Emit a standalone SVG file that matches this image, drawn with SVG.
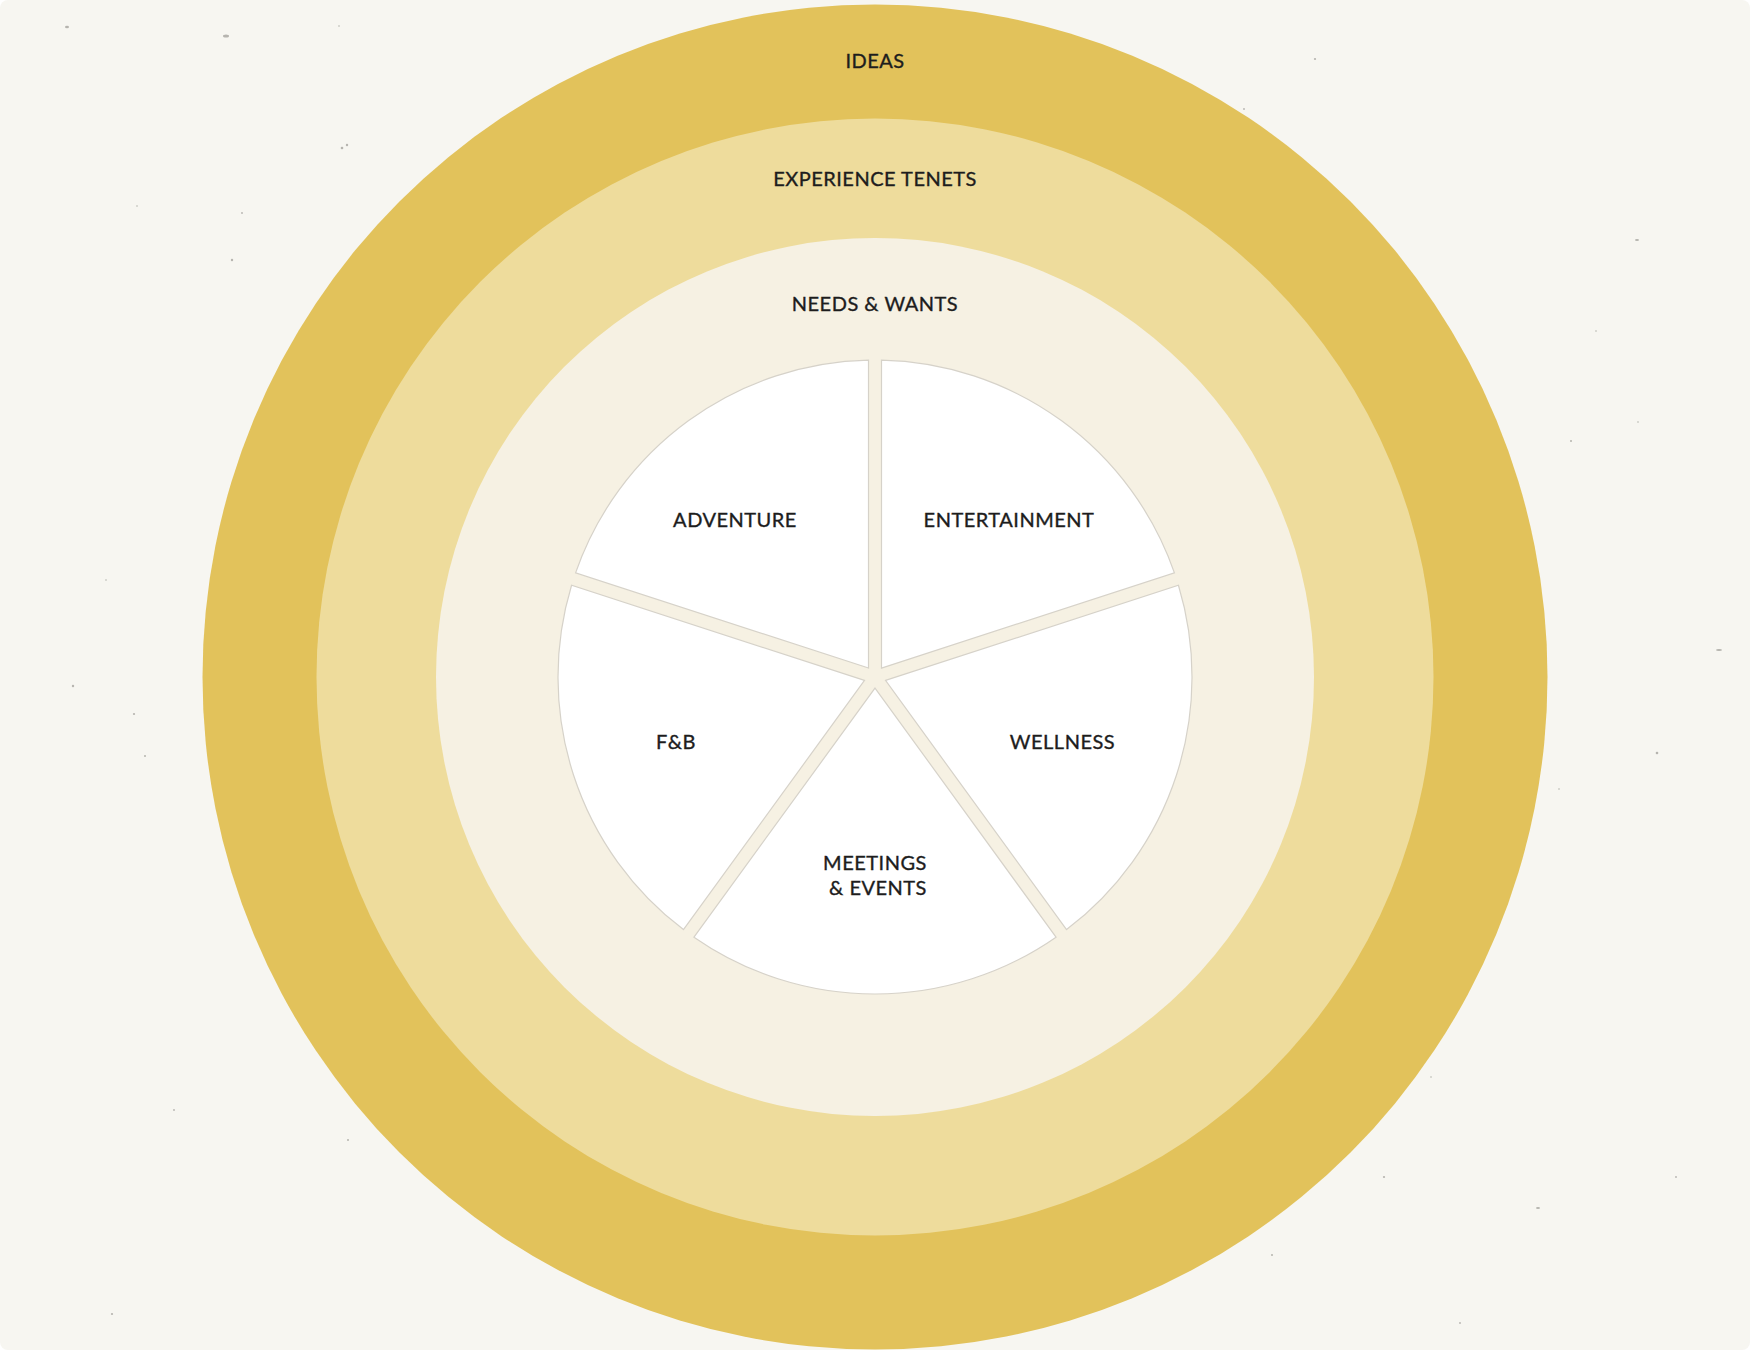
<svg xmlns="http://www.w3.org/2000/svg" width="1750" height="1350" viewBox="0 0 1750 1350">
<defs>
<style>
.lbl{font-family:Lato,"Liberation Sans",sans-serif;font-size:20px;fill:#1d1d1d;stroke:#1d1d1d;stroke-width:0.35;text-anchor:middle;letter-spacing:0.5px}
.slice{fill:#ffffff;stroke:#d6d2c9;stroke-width:1.2}
.speck{fill:#9a9893;opacity:0.7}
</style>
</defs>
<rect x="0" y="0" width="1750" height="1350" fill="#ffffff"/>
<rect x="0" y="0" width="1750" height="1350" rx="8" fill="#f7f6f1"/>
<g id="specks">
<ellipse class="speck" cx="67" cy="27" rx="2" ry="1.2"/>
<ellipse class="speck" cx="226" cy="36" rx="3" ry="1.5"/>
<circle class="speck" cx="339" cy="26" r="0.8"/>
<circle class="speck" cx="342" cy="148" r="1.3"/>
<circle class="speck" cx="347" cy="145" r="1.2"/>
<circle class="speck" cx="137" cy="206" r="0.8"/>
<circle class="speck" cx="242" cy="213" r="0.9"/>
<circle class="speck" cx="232" cy="260" r="1.2"/>
<circle class="speck" cx="106" cy="580" r="0.8"/>
<circle class="speck" cx="73" cy="686" r="1.2"/>
<circle class="speck" cx="134" cy="714" r="1.1"/>
<circle class="speck" cx="145" cy="756" r="1"/>
<circle class="speck" cx="1315" cy="59" r="1.1"/>
<circle class="speck" cx="1244" cy="109" r="0.9"/>
<ellipse class="speck" cx="1637" cy="240" rx="2" ry="1"/>
<circle class="speck" cx="1596" cy="331" r="0.8"/>
<circle class="speck" cx="1638" cy="422" r="0.8"/>
<circle class="speck" cx="1571" cy="441" r="1"/>
<ellipse class="speck" cx="1719" cy="650" rx="3" ry="1"/>
<circle class="speck" cx="1657" cy="753" r="1.3"/>
<circle class="speck" cx="1559" cy="789" r="0.8"/>
<circle class="speck" cx="174" cy="1110" r="0.9"/>
<circle class="speck" cx="348" cy="1140" r="1"/>
<circle class="speck" cx="1384" cy="1177" r="1.1"/>
<ellipse class="speck" cx="1538" cy="1208" rx="2" ry="1"/>
<circle class="speck" cx="1676" cy="1177" r="0.9"/>
<circle class="speck" cx="1272" cy="1255" r="1"/>
<circle class="speck" cx="112" cy="1314" r="1.1"/>
<circle class="speck" cx="1460" cy="1323" r="0.9"/>
<circle class="speck" cx="1431" cy="1077" r="0.8"/>
</g>
<g id="ring-ideas">
<circle cx="875" cy="677" r="672.5" fill="#e2c25b"/>
<text class="lbl" x="875" y="68">IDEAS</text>
</g>
<g id="ring-experience-tenets">
<circle cx="875" cy="677" r="558.5" fill="#eedc9c"/>
<text class="lbl" x="875" y="186">EXPERIENCE TENETS</text>
</g>
<g id="ring-needs-wants">
<circle cx="875" cy="677" r="439" fill="#f6f1e3"/>
<text class="lbl" x="875" y="311">NEEDS &amp; WANTS</text>
</g>
<g id="slice-adventure">
<path class="slice" d="M868.5 668.05 L575.58 572.88 A317 317 0 0 1 868.5 360.07 Z"/>
<text class="lbl" x="735" y="527">ADVENTURE</text>
</g>
<g id="slice-entertainment">
<path class="slice" d="M881.5 668.05 L881.5 360.07 A317 317 0 0 1 1174.42 572.88 Z"/>
<text class="lbl" x="1009" y="527">ENTERTAINMENT</text>
</g>
<g id="slice-wellness">
<path class="slice" d="M885.52 680.42 L1178.43 585.24 A317 317 0 0 1 1066.55 929.59 Z"/>
<text class="lbl" x="1062.5" y="748.5">WELLNESS</text>
</g>
<g id="slice-meetings-events">
<path class="slice" d="M875 688.06 L1056.03 937.23 A317 317 0 0 1 693.97 937.23 Z"/>
<text class="lbl" x="875" y="870">MEETINGS</text>
<text class="lbl" x="878" y="895">&amp; EVENTS</text>
</g>
<g id="slice-fb">
<path class="slice" d="M864.48 680.42 L683.45 929.59 A317 317 0 0 1 571.57 585.24 Z"/>
<text class="lbl" x="676" y="748.5">F&amp;B</text>
</g>
<g id="connectors"></g>
</svg>
